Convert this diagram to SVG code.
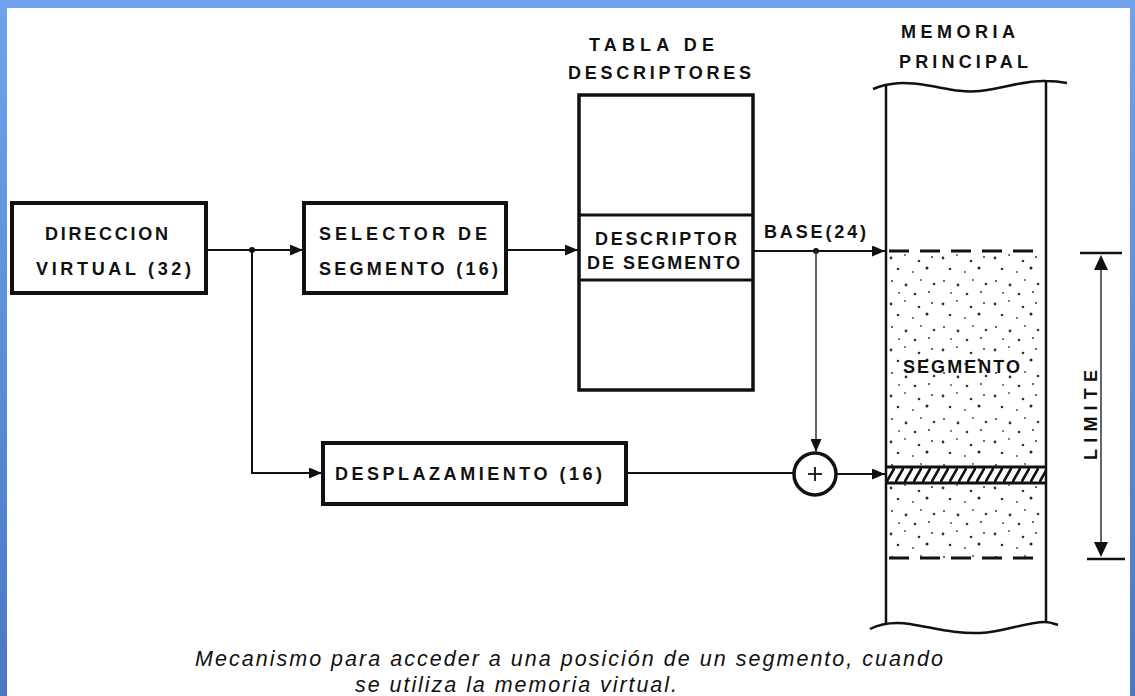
<svg xmlns="http://www.w3.org/2000/svg" width="1135" height="696" viewBox="0 0 1135 696">
<style>
.lbl{font-family:"Liberation Sans",Arial,sans-serif;font-weight:bold;font-size:18px;fill:#111}
.cap{font-family:"Liberation Sans",Arial,sans-serif;font-style:italic;font-size:21.5px;fill:#111}
.box{fill:#fff;stroke:#111;stroke-width:4}
.ln{fill:none;stroke:#111;stroke-width:2}
.thin{fill:none;stroke:#333;stroke-width:1.5}
.wall{fill:none;stroke:#111;stroke-width:2.5}
.dash{fill:none;stroke:#111;stroke-width:3;stroke-dasharray:20 11}
</style>
<defs>
<marker id="arr" markerUnits="userSpaceOnUse" markerWidth="13" markerHeight="11" refX="13" refY="5.5" orient="auto">
<path d="M0,0 L13,5.5 L0,11 z" fill="#111"/>
</marker>
<linearGradient id="side" x1="0" y1="0" x2="0" y2="1">
<stop offset="0" stop-color="#71a2ee"/>
<stop offset="1" stop-color="#4b77c5"/>
</linearGradient>
<pattern id="stip" patternUnits="userSpaceOnUse" x="886" y="252" width="52" height="46">
<circle cx="5" cy="6" r="1.4" fill="#333"/>
<circle cx="19" cy="3" r="1" fill="#555"/>
<circle cx="33" cy="9" r="1.3" fill="#333"/>
<circle cx="46" cy="5" r="1.1" fill="#444"/>
<circle cx="12" cy="17" r="1.3" fill="#333"/>
<circle cx="27" cy="20" r="1" fill="#555"/>
<circle cx="41" cy="16" r="1.5" fill="#222"/>
<circle cx="6" cy="29" r="1.1" fill="#444"/>
<circle cx="20" cy="33" r="1.4" fill="#333"/>
<circle cx="35" cy="28" r="1" fill="#555"/>
<circle cx="48" cy="32" r="1.3" fill="#333"/>
<circle cx="13" cy="41" r="1" fill="#555"/>
<circle cx="29" cy="42" r="1.3" fill="#333"/>
<circle cx="43" cy="40" r="1.1" fill="#444"/>
</pattern>
<pattern id="hatch" patternUnits="userSpaceOnUse" x="886" y="467" width="9" height="16">
<path d="M-1,17.8 L10,-1.8" stroke="#111" stroke-width="2.6"/>
</pattern>
</defs>

<rect x="0" y="0" width="1135" height="696" fill="#fff"/>
<rect x="0" y="0" width="7" height="696" fill="url(#side)"/>
<rect x="1130" y="0" width="5" height="696" fill="url(#side)"/>
<rect x="0" y="0" width="1135" height="8" fill="#71a2ee"/>

<g id="direccion">
<rect class="box" x="12" y="203" width="194" height="90"/>
<text class="lbl" x="45" y="240" textLength="123" lengthAdjust="spacing">DIRECCION</text>
<text class="lbl" x="36" y="275" textLength="155" lengthAdjust="spacing">VIRTUAL (32)</text>
</g>

<g id="selector">
<rect class="box" x="304" y="203" width="202" height="90"/>
<text class="lbl" x="319" y="240" textLength="168" lengthAdjust="spacing">SELECTOR DE</text>
<text class="lbl" x="319" y="275" textLength="179" lengthAdjust="spacing">SEGMENTO (16)</text>
</g>

<g id="tabla">
<text class="lbl" x="589" y="51" textLength="125" lengthAdjust="spacing">TABLA DE</text>
<text class="lbl" x="568" y="79" textLength="183" lengthAdjust="spacing">DESCRIPTORES</text>
<rect x="579" y="95" width="174" height="295" fill="#fff" stroke="#111" stroke-width="3.5"/>
<line x1="579" y1="215" x2="753" y2="215" stroke="#111" stroke-width="3"/>
<line x1="579" y1="280" x2="753" y2="280" stroke="#111" stroke-width="3"/>
<text class="lbl" x="595" y="245" textLength="142" lengthAdjust="spacing">DESCRIPTOR</text>
<text class="lbl" x="587" y="269" textLength="153" lengthAdjust="spacing">DE SEGMENTO</text>
</g>

<g id="desplazamiento">
<rect class="box" x="323" y="443" width="303" height="61"/>
<text class="lbl" x="335" y="480" textLength="267" lengthAdjust="spacing">DESPLAZAMIENTO (16)</text>
</g>

<g id="sumador">
<circle cx="815" cy="474" r="21" fill="#fff" stroke="#111" stroke-width="3.5"/>
<line x1="808" y1="474" x2="822" y2="474" stroke="#111" stroke-width="1.8"/>
<line x1="815" y1="467" x2="815" y2="481" stroke="#111" stroke-width="1.8"/>
</g>

<g id="memoria">
<text class="lbl" x="901" y="38" textLength="114" lengthAdjust="spacing">MEMORIA</text>
<text class="lbl" x="899" y="68" textLength="129" lengthAdjust="spacing">PRINCIPAL</text>
<rect x="886" y="252" width="160" height="306" fill="url(#stip)"/>
<rect x="886" y="467" width="160" height="16" fill="#fff"/>
<rect x="886" y="467" width="160" height="16" fill="url(#hatch)"/>
<line x1="886" y1="467" x2="1046" y2="467" stroke="#111" stroke-width="3"/>
<line x1="886" y1="483" x2="1046" y2="483" stroke="#111" stroke-width="3"/>
<path class="wall" d="M873,89 C890,82 905,82 925,85 C945,88 960,93 980,91 C1005,88 1025,80 1046,81 C1055,81 1062,82 1067,83"/>
<path class="wall" d="M870,629 C880,624 895,622 910,624 C935,628 955,634 980,633 C1005,632 1025,622 1045,622 C1050,622 1055,624 1058,625"/>
<line class="wall" x1="886" y1="85" x2="886" y2="625"/>
<line class="wall" x1="1046" y1="81" x2="1046" y2="622"/>
<line class="dash" x1="889" y1="251" x2="1044" y2="251"/>
<line class="dash" x1="889" y1="558" x2="1044" y2="558"/>
<text class="lbl" x="903" y="373" textLength="117" lengthAdjust="spacing">SEGMENTO</text>
</g>

<g id="limite">
<line x1="1080" y1="253" x2="1122" y2="253" stroke="#111" stroke-width="2.5"/>
<line x1="1087" y1="559" x2="1125" y2="559" stroke="#111" stroke-width="2.5"/>
<line class="thin" x1="1101" y1="268" x2="1101" y2="544"/>
<path d="M1101,255 L1108,270 L1094,270 z" fill="#111"/>
<path d="M1101,557 L1108,542 L1094,542 z" fill="#111"/>
<text class="lbl" transform="translate(1097,460) rotate(-90)" x="0" y="0" textLength="90" lengthAdjust="spacing">LIMITE</text>
</g>

<g id="connectors">
<line class="ln" x1="206" y1="250" x2="303" y2="250" marker-end="url(#arr)"/>
<circle cx="252" cy="250" r="3" fill="#111"/>
<polyline class="ln" points="252,250 252,473 322,473" marker-end="url(#arr)"/>
<line class="ln" x1="506" y1="250" x2="578" y2="250" marker-end="url(#arr)"/>
<line class="ln" x1="753" y1="251" x2="885" y2="251" marker-end="url(#arr)"/>
<circle cx="816" cy="251" r="3" fill="#111"/>
<line class="thin" x1="816" y1="251" x2="816" y2="452" marker-end="url(#arr)"/>
<line class="ln" x1="626" y1="473" x2="794" y2="473"/>
<line class="ln" x1="836" y1="474" x2="885" y2="474" marker-end="url(#arr)"/>
<text class="lbl" x="764" y="238" textLength="102" lengthAdjust="spacing">BASE(24)</text>
</g>

<g id="caption">
<text class="cap" x="195" y="666" textLength="748" lengthAdjust="spacing">Mecanismo para acceder a una posición de un segmento, cuando</text>
<text class="cap" x="355" y="692" textLength="322" lengthAdjust="spacing">se utiliza la memoria virtual.</text>
</g>
</svg>
